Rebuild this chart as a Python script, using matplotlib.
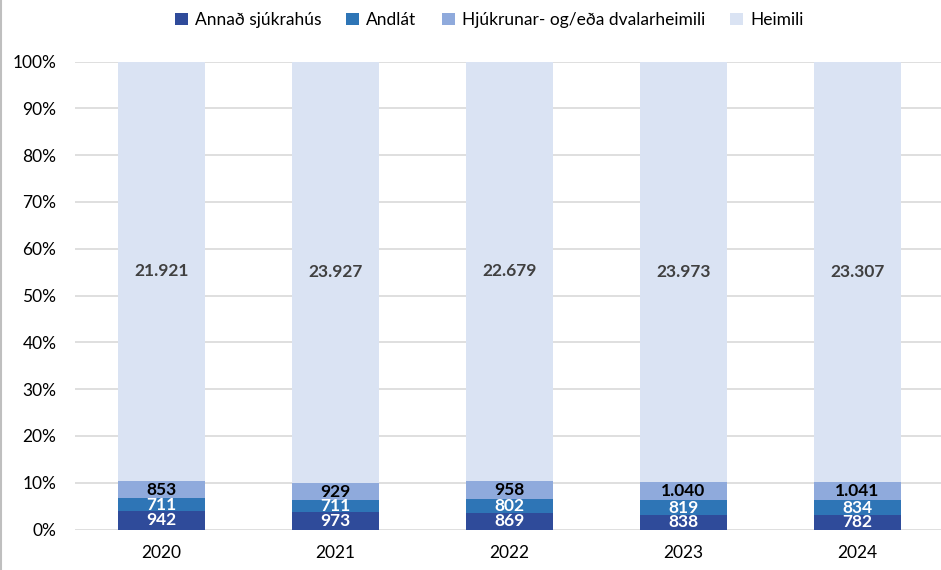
import matplotlib
matplotlib.use("Agg")
import matplotlib.pyplot as plt
from matplotlib.lines import Line2D
import numpy as np

plt.rcParams['font.family'] = ['Lato', 'DejaVu Sans']

# data
years = ["2020", "2021", "2022", "2023", "2024"]
annad_sjukrahus = [942, 973, 869, 838, 782]
andlat = [711, 711, 802, 819, 834]
hjukrunar = [853, 929, 958, 1040, 1041]
heimili = [21921, 23927, 22679, 23973, 23307]

series_names = ["Annað sjúkrahús", "Andlát", "Hjúkrunar- og/eða dvalarheimili", "Heimili"]
colors = ["#2F4B9A", "#2E75B6", "#8FAADC", "#DAE3F3"]
label_colors = ["white", "white", "black", "#404040"]


def fmt(v):
    return f"{v:,}".replace(",", ".")


fig = plt.figure(figsize=(9.41, 5.70), dpi=100)
ax = fig.add_axes([74.5 / 941, 40.5 / 570, 870 / 941, 468 / 570])

data = np.array([annad_sjukrahus, andlat, hjukrunar, heimili], dtype=float)
totals = data.sum(axis=0)
shares = data / totals * 100
x = np.arange(len(years))

bottom = np.zeros(len(years))
for i, name in enumerate(series_names):
    ax.bar(x, shares[i], 0.5, bottom=bottom, color=colors[i], label=name, zorder=2)
    for j in range(len(years)):
        ax.text(x[j], bottom[j] + shares[i][j] / 2, fmt(int(data[i][j])),
                ha="center", va="center", fontsize=12.5, fontweight="bold",
                color=label_colors[i], zorder=3)
    bottom += shares[i]

ax.set_xlim(-0.5, 4.5)
ax.set_ylim(0, 100)
ax.set_yticks(np.arange(0, 101, 10))
ax.set_yticklabels([f"{v}%" for v in range(0, 101, 10)])
ax.set_xticks(x)
ax.set_xticklabels(years)
ax.tick_params(axis="both", length=0, labelsize=12.5, colors="black")
ax.tick_params(axis="x", pad=11)
ax.tick_params(axis="y", pad=13)
ax.grid(axis="y", color="#D9D9D9", linewidth=1.2, zorder=0)
for s in ax.spines.values():
    s.set_visible(False)

handles, labels = ax.get_legend_handles_labels()
fig.legend(handles, labels, loc="center", bbox_to_anchor=(489 / 941, 1 - 20 / 570),
           ncol=4, frameon=False, fontsize=12.5, handlelength=0.75, handleheight=0.75,
           handletextpad=0.4, columnspacing=1.45)

# outer chart border, left edge visible
fig.add_artist(Line2D([0.6 / 941, 0.6 / 941], [0, 1], color="#BFBFBF", linewidth=1.5,
                      transform=fig.transFigure))

fig.savefig("out.png", dpi=100)
